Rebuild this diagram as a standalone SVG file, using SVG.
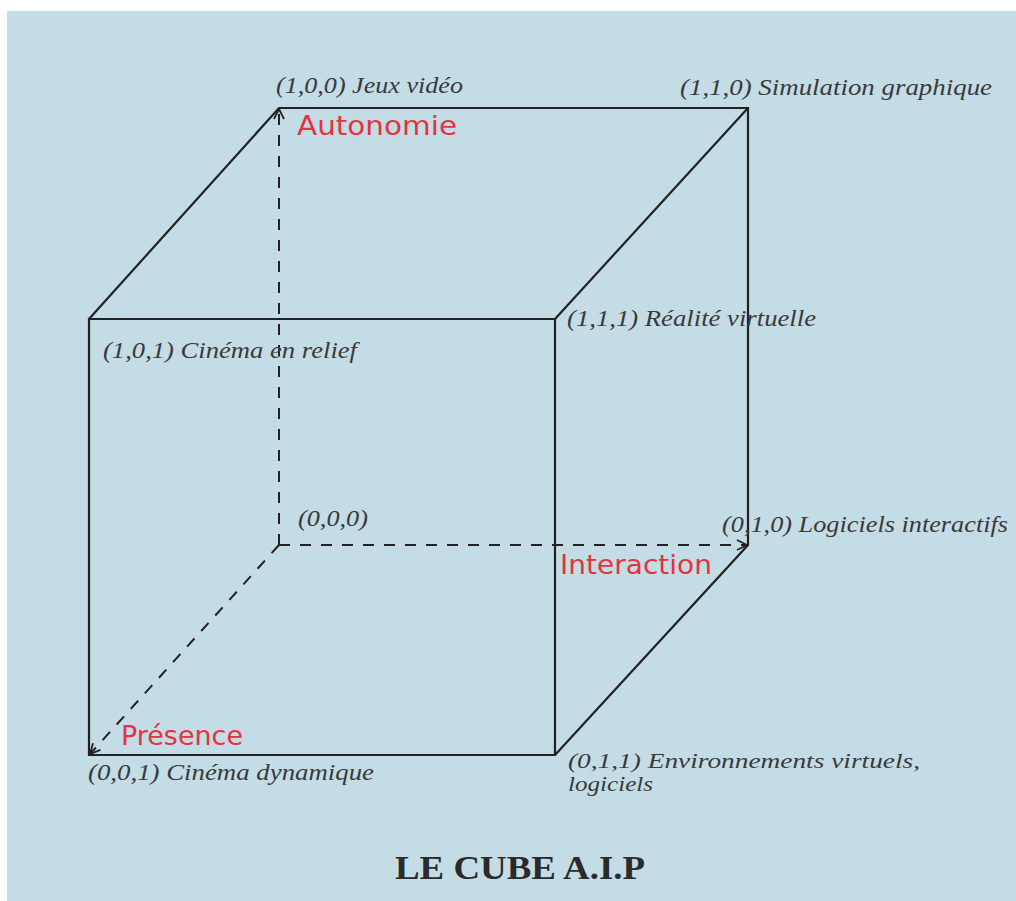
<svg xmlns="http://www.w3.org/2000/svg" width="1016" height="901" viewBox="0 0 1016 901">
<defs>
<style>
.lbl{font-family:"Liberation Serif",serif;font-style:italic;font-size:23px;fill:#3a3a3a}
.sm{font-size:21px}
.axis{font-family:"DejaVu Sans","Liberation Sans",sans-serif;font-size:27px;fill:#e5333f}
.title{font-family:"Liberation Serif",serif;font-weight:bold;font-size:34px;fill:#2a2a2a}
.edge{stroke:#222;stroke-width:2.2;fill:none}
.hid{stroke:#222;stroke-width:2;fill:none;stroke-dasharray:11 10}
</style>
<marker id="arr" viewBox="0 0 12 12" refX="11" refY="6" markerWidth="12" markerHeight="12" markerUnits="userSpaceOnUse" orient="auto">
<path d="M1,1 L11,6 L1,11" fill="none" stroke="#222" stroke-width="1.8"/>
</marker>
</defs>
<rect width="1016" height="901" fill="#ffffff"/>
<rect x="7" y="11" width="1009" height="890" fill="#c3dce5"/>
<g id="connectors">
<polygon class="edge" points="89,319 555,319 555,755 89,755"/>
<polyline class="edge" points="89,319 279,108 748,108 748,545 555,755"/>
<line class="edge" x1="555" y1="319" x2="748" y2="108"/>
<line class="hid" x1="279" y1="545" x2="279" y2="109" marker-end="url(#arr)"/>
<line class="hid" x1="279" y1="545" x2="747" y2="545" marker-end="url(#arr)"/>
<line class="hid" x1="279" y1="545" x2="90" y2="754" marker-end="url(#arr)"/>
</g>
<g id="n100"><text class="lbl" x="276" y="93" textLength="187" lengthAdjust="spacingAndGlyphs">(1,0,0) Jeux vidéo</text></g>
<g id="n110"><text class="lbl" x="680" y="95" textLength="312" lengthAdjust="spacingAndGlyphs">(1,1,0) Simulation graphique</text></g>
<g id="n101"><text class="lbl" x="103" y="358" textLength="254" lengthAdjust="spacingAndGlyphs">(1,0,1) Cinéma en relief</text></g>
<g id="n111"><text class="lbl" x="567" y="326" textLength="249" lengthAdjust="spacingAndGlyphs">(1,1,1) Réalité virtuelle</text></g>
<g id="n000"><text class="lbl" x="298" y="526" textLength="70" lengthAdjust="spacingAndGlyphs">(0,0,0)</text></g>
<g id="n010"><text class="lbl" x="722" y="532" textLength="286" lengthAdjust="spacingAndGlyphs">(0,1,0) Logiciels interactifs</text></g>
<g id="n001"><text class="lbl" x="88" y="780" textLength="286" lengthAdjust="spacingAndGlyphs">(0,0,1) Cinéma dynamique</text></g>
<g id="n011"><text class="lbl sm" x="568" y="768" textLength="352" lengthAdjust="spacingAndGlyphs">(0,1,1) Environnements virtuels,</text><text class="lbl sm" x="568" y="791" textLength="85" lengthAdjust="spacingAndGlyphs">logiciels</text></g>
<g id="axes">
<text class="axis" x="297" y="135" textLength="160" lengthAdjust="spacingAndGlyphs">Autonomie</text>
<text class="axis" x="560" y="574" textLength="152" lengthAdjust="spacingAndGlyphs">Interaction</text>
<text class="axis" x="121" y="745" textLength="122" lengthAdjust="spacingAndGlyphs">Présence</text>
</g>
<g id="title"><text class="title" x="395" y="879" textLength="250" lengthAdjust="spacingAndGlyphs">LE CUBE A.I.P</text></g>
</svg>
